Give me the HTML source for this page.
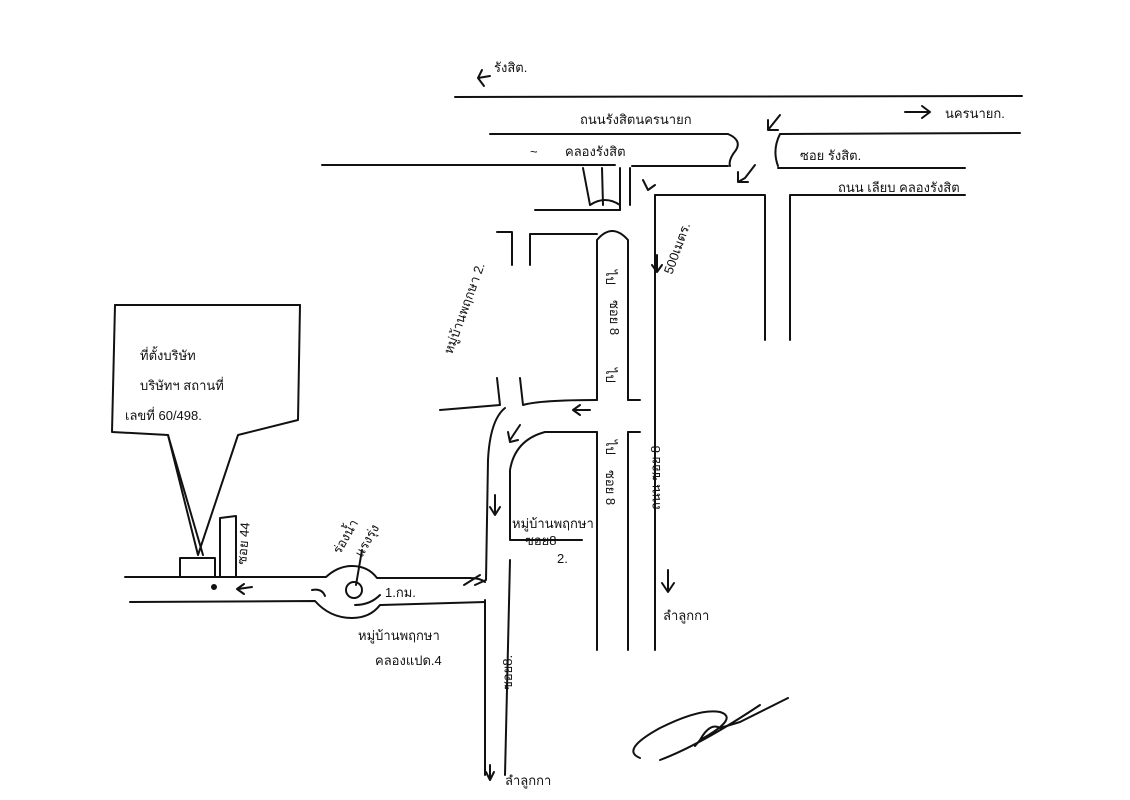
<!DOCTYPE html>
<html><head><meta charset="utf-8"><style>
html,body{margin:0;padding:0;background:#fff;}
svg{display:block;}
text{font-family:"Liberation Sans","DejaVu Sans",sans-serif;font-size:13px;fill:#111;}
</style></head><body>
<svg width="1130" height="800" viewBox="0 0 1130 800" xmlns="http://www.w3.org/2000/svg">
<g fill="none" stroke="#111" stroke-width="2" stroke-linecap="round" stroke-linejoin="round">
<path d="M455 97 L1022 96"/>
<path d="M490 134 L728 134 Q742 140 736 150 Q728 160 730 166"/>
<path d="M778 166 Q772 150 780 134 L1020 133"/>
<path d="M322 165 L615 165"/>
<path d="M632 166 L728 166"/>
<path d="M778 168 L965 168"/>
<path d="M655 195 L765 195 L765 340"/>
<path d="M790 340 L790 195 L965 195"/>
<path d="M583 168 L590 205 M602 168 L603 205"/>
<path d="M590 205 Q605 195 620 205"/>
<path d="M620 168 L620 210 M630 168 L630 205"/>
<path d="M535 210 L620 210"/>
<path d="M497 232 L512 232 L512 265"/>
<path d="M530 265 L530 234 L597 234"/>
<path d="M655 195 L655 650"/>
<path d="M597 400 L597 240 Q612 222 628 240 L628 400"/>
<path d="M597 432 L597 650 M628 432 L628 650"/>
<path d="M628 400 L640 400 M628 432 L640 432"/>
<path d="M440 410 L500 405 L497 378"/>
<path d="M520 378 L523 405 Q540 400 597 400"/>
<path d="M597 432 L545 432 Q515 440 510 470 L510 540 L582 540"/>
<path d="M505 408 Q490 420 488 460 L486 580 L475 585"/>
<path d="M510 560 L505 775 M485 600 L485 775"/>
<path d="M125 577 L326 577 Q338 566 352 566 Q368 566 377 578 L470 578 Q480 578 485 582"/>
<path d="M130 602 L315 601 Q330 618 352 618 Q370 618 380 605 L485 602"/>
<circle cx="354" cy="590" r="8"/>
<path d="M312 590 Q322 588 325 596 M380 595 Q370 605 355 605"/>
<path d="M180 577 L180 558 L215 558 L215 577"/>
<path d="M220 577 L220 518 L236 516 L236 577"/>
<circle cx="214" cy="587" r="2" fill="#111"/>
<path d="M115 305 L300 305"/>
<path d="M115 305 L112 432 L168 435 L198 555 L238 435 L298 420 L300 305"/>
<path d="M168 435 L203 555"/>
<path d="M478 78 L490 76 M478 78 L482 70 M478 78 L484 86"/>
<path d="M905 112 L930 112 M922 106 L930 112 L922 118"/>
<path d="M780 115 L768 130 M768 120 L768 130 L778 130"/>
<path d="M755 165 L745 178 L738 182 M738 172 L738 182 L748 182"/>
<path d="M655 185 L648 190 M643 180 L648 190"/>
<path d="M657 255 L657 270 M652 265 L657 272 L662 265"/>
<path d="M590 410 L575 410 M580 405 L573 410 L580 415"/>
<path d="M520 425 L510 440 M508 432 L510 442 L518 440"/>
<path d="M495 495 L495 513 M490 507 L495 515 L500 507"/>
<path d="M668 570 L668 590 M662 583 L668 592 L674 583"/>
<path d="M252 587 L238 589 M244 584 L237 589 L244 594"/>
<path d="M464 585 L480 575"/>
<path d="M490 765 L490 778 M486 772 L490 780 L494 772"/>
<path d="M362 550 L356 585"/>
<path d="M640 758 Q620 750 660 728 Q700 708 720 712 Q740 718 700 740 Q690 752 700 740 Q710 722 720 728 L740 722 Q760 712 788 698"/>
<path d="M660 760 Q700 745 760 705"/>
</g>
<text x="494" y="72">รังสิต.</text>
<text x="580" y="124">ถนนรังสิตนครนายก</text>
<text x="945" y="118">นครนายก.</text>
<text x="565" y="156">คลองรังสิต</text>
<text x="530" y="156">~</text>
<text x="800" y="160">ซอย รังสิต.</text>
<text x="838" y="192">ถนน เลียบ คลองรังสิต</text>
<text x="672" y="275" transform="rotate(-70 672 275)">500เมตร.</text>
<text x="606" y="270" transform="rotate(90 606 270)">ไป</text>
<text x="610" y="300" transform="rotate(90 610 300)">ซอย 8</text>
<text x="606" y="368" transform="rotate(90 606 368)">ไป</text>
<text x="606" y="440" transform="rotate(90 606 440)">ไป</text>
<text x="606" y="470" transform="rotate(90 606 470)">ซอย 8</text>
<text x="660" y="510" transform="rotate(-90 660 510)">ถนน ซอย 8</text>
<text x="452" y="355" transform="rotate(-70 452 355)">หมู่บ้านพฤกษา 2.</text>
<text x="512" y="528">หมู่บ้านพฤกษา</text>
<text x="525" y="545">ซอย8</text>
<text x="557" y="563">2.</text>
<text x="340" y="555" transform="rotate(-60 340 555)">ร่องน้ำ</text>
<text x="362" y="558" transform="rotate(-60 362 558)">แรงรุ่ง</text>
<text x="385" y="597">1.กม.</text>
<text x="358" y="640">หมู่บ้านพฤกษา</text>
<text x="375" y="665">คลองแปด.4</text>
<text x="663" y="620">ลำลูกกา</text>
<text x="512" y="690" transform="rotate(-90 512 690)">ซอย8.</text>
<text x="140" y="360">ที่ตั้งบริษัท</text>
<text x="140" y="390">บริษัทฯ สถานที่</text>
<text x="125" y="420">เลขที่ 60/498.</text>
<text x="246" y="565" transform="rotate(-85 246 565)">ซอย 44</text>
<text x="505" y="785">ลำลูกกา</text>
</svg>
</body></html>
